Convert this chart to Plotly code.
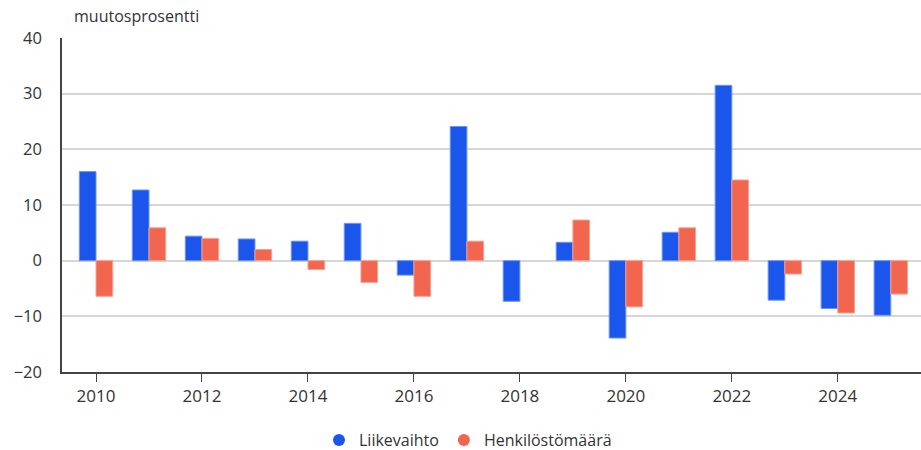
import plotly.graph_objects as go

years = list(range(2010, 2026))
liikevaihto = [16.0, 12.7, 4.4, 3.9, 3.5, 6.7, -2.6, 24.1, -7.3, 3.3, -13.9, 5.1, 31.5, -7.1, -8.6, -9.8]
henkilosto = [-6.4, 5.9, 4.0, 2.0, -1.6, -3.9, -6.4, 3.5, None, 7.3, -8.3, 5.9, 14.5, -2.4, -9.4, -6.0]
series_names = ["Liikevaihto", "Henkilöstömäärä"]
colors = ["#1A56EC", "#F2654E"]
border_colors = ["#6F93F2", "#F8A090"]

font_family = "Open Sans, Noto Sans, sans-serif"

fig = go.Figure()
for name, vals, c, bc in zip(series_names, [liikevaihto, henkilosto], colors, border_colors):
    fig.add_trace(go.Bar(x=years, y=vals, name=name, marker=dict(color=c, line=dict(color=bc, width=1)),
                         showlegend=False))
for name, c in zip(series_names, colors):
    fig.add_trace(go.Scatter(x=[None], y=[None], mode="markers", name=name,
                             marker=dict(color=c, size=15, symbol="circle")))

W, H = 921, 450
L, T, B = 62, 38, 78
plot_w = W - L
plot_h = H - T - B
fig.update_layout(
    width=W, height=H,
    margin=dict(l=L, r=0, t=T, b=B, autoexpand=False),
    paper_bgcolor="white", plot_bgcolor="white",
    barmode="group", bargap=0.37, bargroupgap=0,
    font=dict(family=font_family, size=16, color="#333333"),
    legend=dict(orientation="h", x=(468 - 62) / plot_w, xanchor="center",
                y=-(440 - 372) / plot_h, yanchor="middle",
                font=dict(size=16, color="#333333"), itemsizing="constant"),
)
fig.add_annotation(text="muutosprosentti", xref="paper", yref="paper", x=(72 - 62) / plot_w, y=1.0,
                   yshift=22, xanchor="left", yanchor="middle", showarrow=False,
                   font=dict(size=16, color="#333333"))

fig.update_xaxes(range=[2009.358, 2025.57], tickmode="linear", tick0=2010, dtick=2,
                 showgrid=False, showline=True, linecolor="#444444", linewidth=1.5,
                 ticks="outside", ticklen=8, tickcolor="#444444", tickwidth=1.2,
                 tickfont=dict(size=17, color="#333333"), zeroline=False)
fig.update_yaxes(range=[-20, 40], tickmode="linear", tick0=-20, dtick=10,
                 showgrid=True, gridcolor="#D6D6D6", gridwidth=1.5,
                 zeroline=True, zerolinecolor="#D6D6D6", zerolinewidth=1.5,
                 showline=True, linecolor="#444444", linewidth=1.5,
                 ticks="", ticklabelstandoff=15,
                 tickfont=dict(size=16.5, color="#333333"))

fig.write_html("out.html", config={"displayModeBar": False},
               post_script="document.body.style.margin='0';document.body.style.overflow='hidden';")
